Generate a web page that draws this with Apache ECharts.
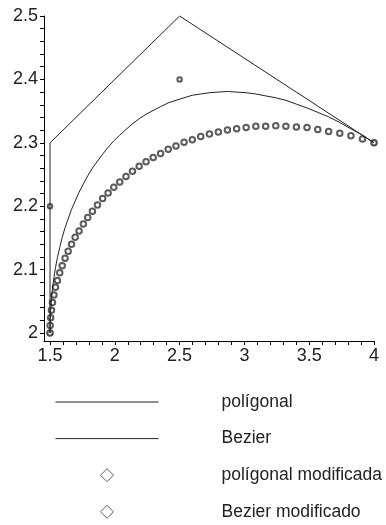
<!DOCTYPE html>
<html>
<head>
<meta charset="utf-8">
<script src="https://cdn.jsdelivr.net/npm/echarts@6/dist/echarts.min.js"></script>
<style>
  html, body { margin: 0; padding: 0; background: #fff; }
  #chart { width: 386px; height: 525px; }
</style>
</head>
<body>
<div id="chart"></div>
<script>
// Control polygon and its modified version
const polyX = [1.5, 1.5, 2.5, 4];
const polyY = [2, 2.3, 2.5, 2.3];
const modPolyY = [2, 2.2, 2.4, 2.3];

// Sampled curve points (shared abscissae for both curves)
const curveX = [1.5, 1.501, 1.505, 1.511, 1.519, 1.530, 1.542, 1.557, 1.575, 1.594,
  1.616, 1.640, 1.666, 1.694, 1.724, 1.757, 1.791, 1.827, 1.866, 1.906,
  1.948, 1.992, 2.038, 2.086, 2.136, 2.188, 2.241, 2.296, 2.353, 2.412,
  2.472, 2.534, 2.598, 2.663, 2.730, 2.799, 2.869, 2.940, 3.013, 3.088,
  3.164, 3.242, 3.320, 3.401, 3.483, 3.566, 3.650, 3.736, 3.822, 3.911, 4.0];
const bezierY = [2, 2.018, 2.036, 2.053, 2.070, 2.087, 2.103, 2.119, 2.135, 2.151,
  2.166, 2.180, 2.195, 2.208, 2.222, 2.235, 2.248, 2.260, 2.271, 2.282,
  2.293, 2.303, 2.312, 2.321, 2.330, 2.338, 2.345, 2.351, 2.357, 2.363,
  2.367, 2.371, 2.375, 2.377, 2.379, 2.380, 2.381, 2.380, 2.379, 2.377,
  2.374, 2.371, 2.367, 2.361, 2.355, 2.348, 2.341, 2.332, 2.322, 2.312, 2.3];
const modBezierY = [2, 2.012, 2.024, 2.036, 2.048, 2.060, 2.072, 2.083, 2.095, 2.106,
  2.118, 2.129, 2.140, 2.151, 2.161, 2.172, 2.182, 2.192, 2.202, 2.212,
  2.221, 2.230, 2.238, 2.247, 2.255, 2.263, 2.270, 2.277, 2.283, 2.290,
  2.295, 2.301, 2.305, 2.310, 2.314, 2.317, 2.320, 2.322, 2.324, 2.326,
  2.326, 2.327, 2.326, 2.325, 2.324, 2.321, 2.318, 2.315, 2.311, 2.306, 2.3];

// Tick positions and labels
const xLabels = [1.5, 2, 2.5, 3, 3.5, 4];
const xTicks = [1.5, 1.6, 1.7, 1.8, 1.9, 2, 2.1, 2.2, 2.3, 2.4, 2.5, 2.6, 2.7,
  2.8, 2.9, 3, 3.1, 3.2, 3.3, 3.4, 3.5, 3.6, 3.7, 3.8, 3.9, 4];
const yLabels = [2, 2.1, 2.2, 2.3, 2.4, 2.5];
const yTicks = [2, 2.02, 2.04, 2.06, 2.08, 2.1, 2.12, 2.14, 2.16, 2.18, 2.2,
  2.22, 2.24, 2.26, 2.28, 2.3, 2.32, 2.34, 2.36, 2.38, 2.4, 2.42, 2.44,
  2.46, 2.48, 2.5];

const names = ['polígonal', 'Bezier', 'polígonal modificada', 'Bezier modificado'];

const zip = (xs, ys) => xs.map((x, i) => [x, ys[i]]);

const ink = '#222';
const font = 'Liberation Sans, Arial, sans-serif';

// Legend entries: plain strokes for the curves, hollow diamonds for the point sets
const lineEntry = (name) => ({
  name,
  itemStyle: { opacity: 0 },
  lineStyle: { color: ink, width: 1, opacity: 1 }
});
const diamondEntry = (name) => ({
  name,
  icon: 'path://M5,0L10,5L5,10L0,5Z',
  symbolKeepAspect: true,
  itemStyle: { color: '#fff', borderColor: '#333', borderWidth: 1 }
});

const chart = echarts.init(document.getElementById('chart'), null, { renderer: 'canvas' });
chart.setOption({
  animation: false,
  backgroundColor: '#fff',
  grid: { left: 44, right: 12, top: 16, bottom: 184, containLabel: false },
  xAxis: {
    type: 'value',
    min: 1.4535,
    max: 4,
    splitLine: { show: false },
    axisLine: { onZero: false, lineStyle: { color: '#000', width: 1 } },
    axisTick: { customValues: xTicks, length: 4, lineStyle: { color: '#000' } },
    axisLabel: { customValues: xLabels, margin: 6, color: ink, fontSize: 18, fontFamily: font }
  },
  yAxis: {
    type: 'value',
    min: 1.9874,
    max: 2.5,
    splitLine: { show: false },
    axisLine: { show: true, onZero: false, lineStyle: { color: '#000', width: 1 } },
    axisTick: { show: true, customValues: yTicks, length: 4, lineStyle: { color: '#000' } },
    axisLabel: { customValues: yLabels, margin: 6, color: ink, fontSize: 18, fontFamily: font }
  },
  legend: {
    orient: 'vertical',
    left: 55,
    top: 392,
    height: 133,
    padding: 0,
    itemWidth: 103,
    itemHeight: 13,
    itemGap: 16.6,
    symbolKeepAspect: true,
    selectedMode: false,
    textStyle: { fontSize: 17.5, fontFamily: font, color: ink, lineHeight: 20, padding: [0, 0, 0, 58] },
    data: [lineEntry(names[0]), lineEntry(names[1]), diamondEntry(names[2]), diamondEntry(names[3])]
  },
  series: [
    {
      name: names[0],
      type: 'line',
      data: zip(polyX, polyY),
      symbol: 'none',
      lineStyle: { color: ink, width: 1 },
      itemStyle: { color: ink }
    },
    {
      name: names[1],
      type: 'line',
      data: zip(curveX, bezierY),
      symbol: 'none',
      lineStyle: { color: ink, width: 1 },
      itemStyle: { color: ink }
    },
    {
      name: names[2],
      type: 'scatter',
      data: zip(polyX, modPolyY),
      symbol: 'emptyCircle',
      symbolSize: 4.5,
      itemStyle: { color: '#333', borderColor: '#333', borderWidth: 0.9 }
    },
    {
      name: names[3],
      type: 'scatter',
      data: zip(curveX, modBezierY),
      symbol: 'emptyCircle',
      symbolSize: 5.5,
      itemStyle: { color: '#333', borderColor: '#333', borderWidth: 0.9 }
    }
  ]
});
</script>
</body>
</html>
